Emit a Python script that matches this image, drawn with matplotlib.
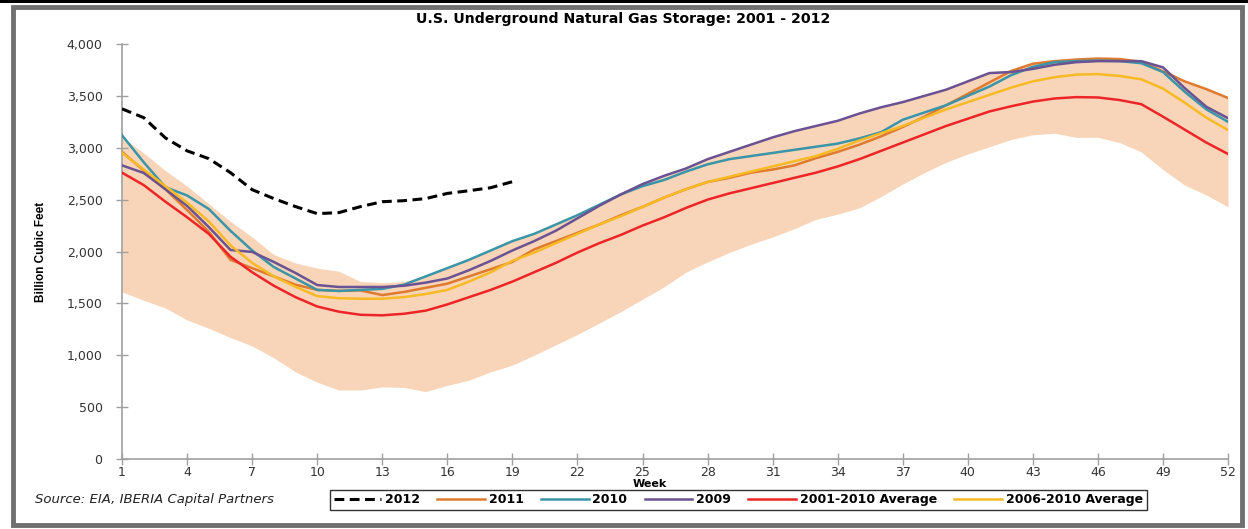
import matplotlib
matplotlib.use("Agg")
import matplotlib.pyplot as plt
from matplotlib.patches import Rectangle
import numpy as np

# weeks 1..52
weeks = np.arange(1, 53)

# 2012 (through week 19)
y2012 = [3375, 3290, 3095, 2970, 2895, 2760, 2596, 2510, 2433, 2365,
         2375, 2433, 2480, 2490, 2510, 2560, 2586, 2615, 2673]

y2011 = [2960, 2780, 2600, 2400, 2190, 1920, 1840, 1760, 1680, 1630,
         1620, 1625, 1580, 1610, 1650, 1690, 1760, 1830, 1900, 2020,
         2100, 2180, 2260, 2350, 2430, 2520, 2600, 2670, 2710, 2760,
         2790, 2830, 2900, 2960, 3030, 3110, 3200, 3300, 3410, 3520,
         3630, 3740, 3810, 3835, 3850, 3860, 3855, 3830, 3735, 3640,
         3565, 3480]

y2010 = [3120, 2860, 2620, 2540, 2410, 2200, 2010, 1850, 1740, 1630,
         1620, 1630, 1640, 1680, 1760, 1840, 1920, 2010, 2100, 2170,
         2260, 2350, 2450, 2550, 2630, 2690, 2770, 2840, 2890, 2920,
         2950, 2980, 3010, 3040, 3090, 3150, 3270, 3340, 3410, 3500,
         3590, 3700, 3780, 3825, 3835, 3840, 3835, 3815, 3730, 3540,
         3370, 3250]

y2009 = [2830, 2757, 2600, 2440, 2236, 2015, 1996, 1899, 1793, 1677,
         1658, 1658, 1658, 1670, 1700, 1740, 1820, 1910, 2010, 2100,
         2200, 2320, 2440, 2550, 2650, 2730, 2800, 2890, 2960, 3030,
         3100, 3160, 3210, 3260, 3330, 3390, 3440, 3500, 3560, 3640,
         3720, 3730, 3760, 3800, 3825, 3835, 3835, 3835, 3775, 3575,
         3395, 3285]

avg_01_10 = [2760, 2640, 2480, 2330, 2170, 1950, 1800, 1670, 1560, 1470,
             1420, 1390, 1385, 1400, 1430, 1490, 1560, 1630, 1710, 1800,
             1890, 1990, 2080, 2160, 2250, 2330, 2420, 2500, 2560, 2610,
             2660, 2710, 2760, 2820, 2890, 2970, 3050, 3130, 3210, 3280,
             3350, 3400, 3445, 3475, 3488, 3485, 3460, 3420, 3300, 3175,
             3050, 2940]

avg_06_10 = [2950, 2790, 2630, 2470, 2290, 2060, 1890, 1760, 1660, 1570,
             1550, 1545, 1545, 1560, 1590, 1630, 1710, 1800, 1910, 1990,
             2080, 2170, 2260, 2340, 2430, 2520, 2600, 2670, 2720, 2770,
             2820, 2870, 2920, 2990, 3070, 3140, 3210, 3290, 3370, 3440,
             3510, 3580, 3640, 3680, 3705, 3710, 3692, 3660, 3570, 3435,
             3290, 3170]

band_hi = [3100, 2950, 2780, 2630, 2460, 2290, 2140, 1970, 1890, 1840,
           1810, 1710, 1700, 1710, 1770, 1850, 1930, 2020, 2110, 2180,
           2270, 2360, 2460, 2570, 2660, 2740, 2810, 2900, 2970, 3040,
           3110, 3170, 3220, 3270, 3340, 3400, 3450, 3510, 3570, 3650,
           3730, 3750, 3815, 3840, 3850, 3860, 3855, 3840, 3780, 3640,
           3565, 3480]

band_lo = [1610, 1530, 1455, 1340, 1260, 1170, 1090, 975, 840, 740,
           665, 665, 695, 690, 650, 710, 760, 840, 905, 1000,
           1100, 1200, 1310, 1420, 1540, 1660, 1800, 1900, 1990, 2070,
           2140, 2220, 2310, 2360, 2420, 2530, 2650, 2760, 2860, 2940,
           3010, 3080, 3125, 3140, 3100, 3100, 3050, 2960, 2790, 2640,
           2545, 2430]

xticks = list(range(1, 53, 3))
yticks = [0, 500, 1000, 1500, 2000, 2500, 3000, 3500, 4000]

fig = plt.figure(figsize=(12.48, 5.29), dpi=100)
fig.patch.set_facecolor("white")

# outer frame like the screenshot
fig.patches.append(Rectangle((0, 0.995), 1, 0.005, transform=fig.transFigure,
                             facecolor="black", edgecolor="none", zorder=0))
fig.patches.append(Rectangle((0.0105, 0.007), 0.985, 0.979, transform=fig.transFigure,
                             facecolor="none", edgecolor="#707070", linewidth=3.5, zorder=0))

ax = fig.add_axes([0.0978, 0.1323, 0.8862, 0.7845])

ax.fill_between(weeks, band_lo, band_hi, color="#F8D5B8", linewidth=0, zorder=1)

ax.plot(weeks[:len(y2012)], y2012, color="black", lw=2.2, ls=(0, (3.2, 1.8)), label="2012", zorder=5)
ax.plot(weeks, y2011, color="#DF7A2E", lw=1.8, label="2011", zorder=3)
ax.plot(weeks, y2010, color="#3A95A8", lw=1.8, label="2010", zorder=3)
ax.plot(weeks, y2009, color="#6A5293", lw=1.8, label="2009", zorder=4)
ax.plot(weeks, avg_01_10, color="#EE2528", lw=1.8, label="2001-2010 Average", zorder=4)
ax.plot(weeks, avg_06_10, color="#F7B924", lw=1.8, label="2006-2010 Average", zorder=4)

ax.set_xlim(1, 52)
ax.set_ylim(0, 4000)
ax.set_xticks(xticks)
ax.set_yticks(yticks)
ax.set_yticklabels([f"{v:,}" for v in yticks])

for side in ["top", "right"]:
    ax.spines[side].set_visible(False)
for side in ["left", "bottom"]:
    ax.spines[side].set_color("#A0A0A0")
    ax.spines[side].set_linewidth(1.2)

ax.tick_params(axis="both", direction="inout", length=8, width=1, color="#A0A0A0",
               labelsize=9, labelcolor="#333333")
ax.tick_params(axis="y", pad=10)
ax.tick_params(axis="x", pad=1)

ax.set_xlabel("Week", fontsize=8, fontweight="bold", labelpad=1)
ax.xaxis.set_label_coords(0.477, -0.047)
ax.set_ylabel("Billion Cubic Feet", fontsize=8.5, fontweight="bold",
              family=["Liberation Sans", "DejaVu Sans"], labelpad=14)

fig.suptitle("U.S. Underground Natural Gas Storage: 2001 - 2012", x=0.4995, y=0.977,
             fontsize=10.2, fontweight="bold")

fig.text(0.028, 0.055, "Source: EIA, IBERIA Capital Partners", fontsize=9.5, style="italic",
         color="#222222", va="center")

leg = fig.legend(loc="center", bbox_to_anchor=(0.5915, 0.055), ncol=6, frameon=True,
                 fancybox=False, edgecolor="black", handlelength=3.8,
                 handletextpad=0.3, columnspacing=1.4, borderpad=0.3,
                 prop={"weight": "bold", "size": 9})
leg.get_frame().set_linewidth(1.0)

fig.savefig("out.png", dpi=100)
